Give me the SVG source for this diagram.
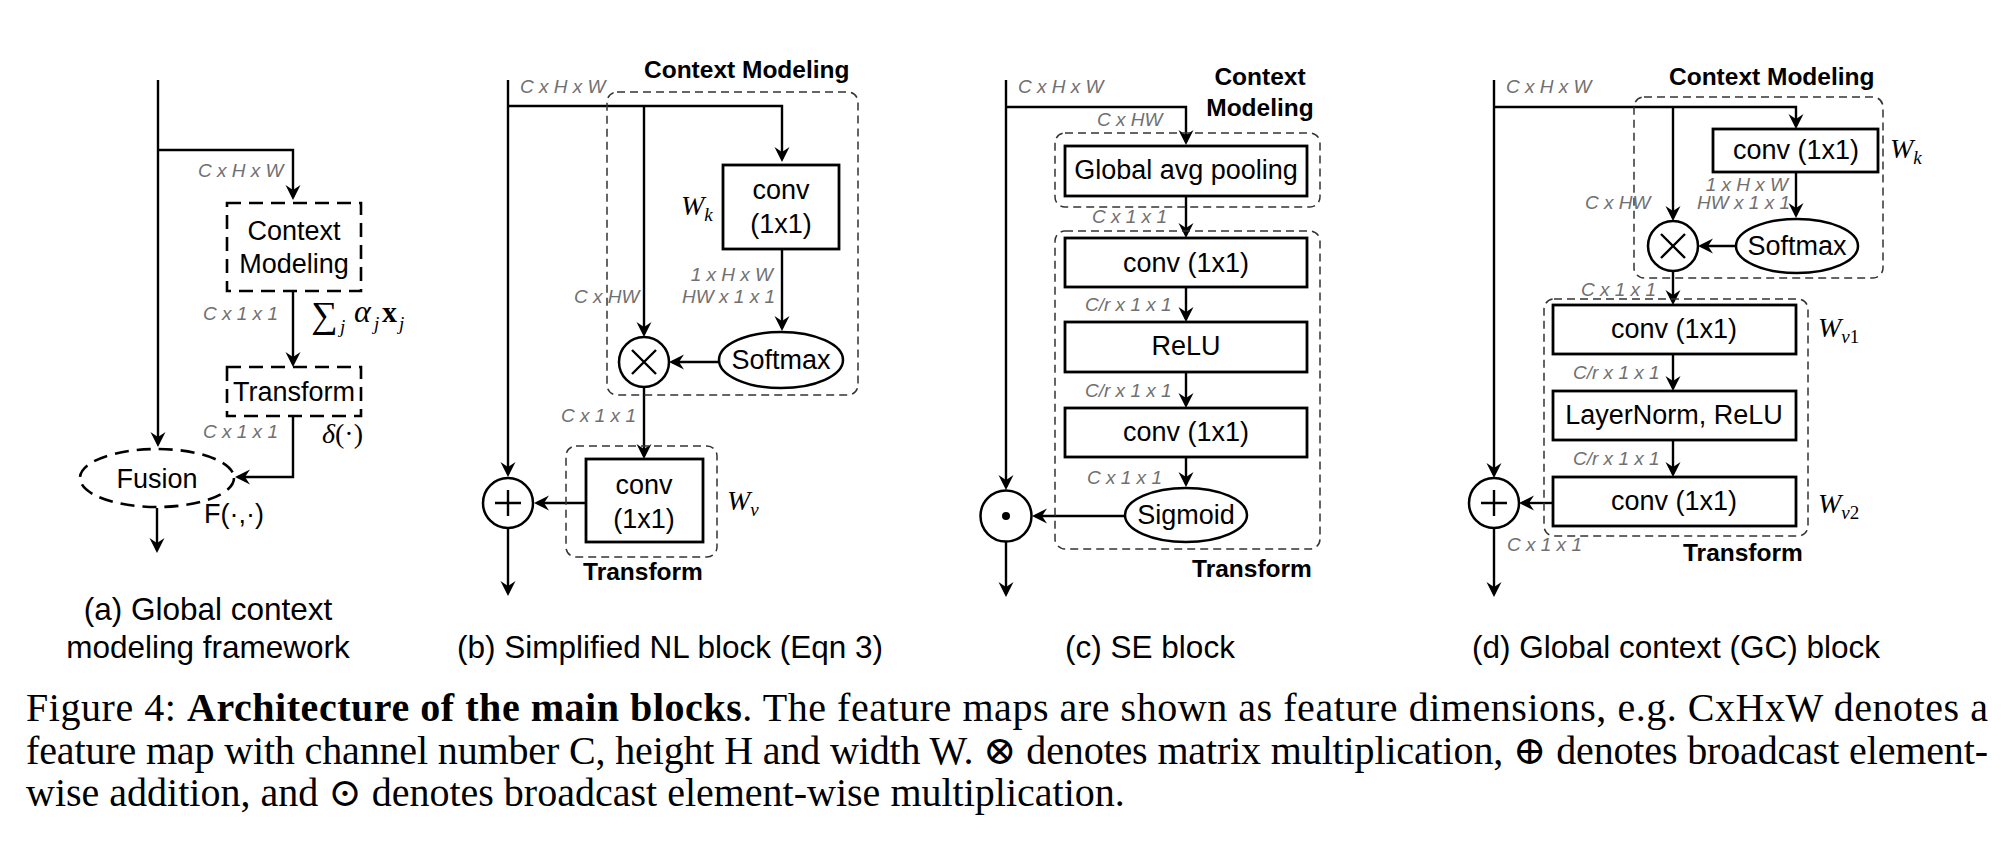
<svg xmlns="http://www.w3.org/2000/svg" width="2005" height="844" viewBox="0 0 2005 844">
<style>
.ln{fill:none;stroke:#000;stroke-width:2.4}
.box{fill:#fff;stroke:#000;stroke-width:2.8}
.dbox{fill:none;stroke:#000;stroke-width:2.6;stroke-dasharray:14 8}
.tbox{fill:none;stroke:#333;stroke-width:1.5;stroke-dasharray:8 5}
.op{fill:#fff;stroke:#000;stroke-width:2.5}
.t{font-family:"Liberation Sans",Arial,sans-serif;font-size:27px;fill:#000}
.c{text-anchor:middle}
.dim{font-family:"Liberation Sans",Arial,sans-serif;font-style:italic;font-size:19px;fill:#707070}
.b{font-family:"Liberation Sans",Arial,sans-serif;font-weight:bold;font-size:24.5px;fill:#000}
.m{font-family:"Liberation Serif","Times New Roman",serif;font-size:28px;fill:#000}
.cap{font-family:"Liberation Sans",Arial,sans-serif;font-size:31.5px;fill:#000;text-anchor:middle}
.fig{font-family:"Liberation Serif","Times New Roman","DejaVu Serif",serif;font-size:40px;fill:#000}
</style>
<defs>
<marker id="arr" viewBox="-16 -8 20 16" refX="-3" refY="0" markerWidth="20" markerHeight="16" markerUnits="userSpaceOnUse" orient="auto">
<path d="M0,0 L-15,-7.5 L-10,0 L-15,7.5 Z" fill="#000"/>
</marker>
</defs>
<rect width="2005" height="844" fill="#fff"/>

<g id="connectors">
<!-- (a) -->
<path class="ln" d="M158,80 V444" marker-end="url(#arr)"/>
<path class="ln" d="M158,150 H293 V197" marker-end="url(#arr)"/>
<path class="ln" d="M293,291 V364" marker-end="url(#arr)"/>
<path class="ln" d="M293,416 V477 H238" marker-end="url(#arr)"/>
<path class="ln" d="M157,508 V550" marker-end="url(#arr)"/>
<!-- (b) -->
<path class="ln" d="M508,80 V474" marker-end="url(#arr)"/>
<path class="ln" d="M508,106 H782 V159" marker-end="url(#arr)"/>
<path class="ln" d="M644,106 V334" marker-end="url(#arr)"/>
<path class="ln" d="M782,249 V328" marker-end="url(#arr)"/>
<path class="ln" d="M719,362 H672" marker-end="url(#arr)"/>
<path class="ln" d="M644,387 V456" marker-end="url(#arr)"/>
<path class="ln" d="M586,503 H537" marker-end="url(#arr)"/>
<path class="ln" d="M508,528 V593" marker-end="url(#arr)"/>
<!-- (c) -->
<path class="ln" d="M1006,80 V487" marker-end="url(#arr)"/>
<path class="ln" d="M1006,107 H1186 V142" marker-end="url(#arr)"/>
<path class="ln" d="M1186,196 V235" marker-end="url(#arr)"/>
<path class="ln" d="M1186,287 V319" marker-end="url(#arr)"/>
<path class="ln" d="M1186,372 V405" marker-end="url(#arr)"/>
<path class="ln" d="M1186,457 V484" marker-end="url(#arr)"/>
<path class="ln" d="M1125,516 H1035" marker-end="url(#arr)"/>
<path class="ln" d="M1006,542 V594" marker-end="url(#arr)"/>
<!-- (d) -->
<path class="ln" d="M1494,80 V475" marker-end="url(#arr)"/>
<path class="ln" d="M1494,107 H1796 V126" marker-end="url(#arr)"/>
<path class="ln" d="M1673,107 V218" marker-end="url(#arr)"/>
<path class="ln" d="M1796,172 V215" marker-end="url(#arr)"/>
<path class="ln" d="M1736,246 H1701" marker-end="url(#arr)"/>
<path class="ln" d="M1673,271 V302" marker-end="url(#arr)"/>
<path class="ln" d="M1673,354 V388" marker-end="url(#arr)"/>
<path class="ln" d="M1673,440 V474" marker-end="url(#arr)"/>
<path class="ln" d="M1553,503 H1522" marker-end="url(#arr)"/>
<path class="ln" d="M1494,528 V594" marker-end="url(#arr)"/>
</g>

<!-- ===== Panel (a) ===== -->
<g id="a-labels">
<text class="dim" x="198" y="177">C x H x W</text>
<text class="dim" x="203" y="320">C x 1 x 1</text>
<text class="dim" x="203" y="438">C x 1 x 1</text>
<text class="m"><tspan x="311" y="327" font-size="37">∑</tspan><tspan x="340" y="333" font-style="italic" font-size="19">j</tspan><tspan x="354" y="322" font-style="italic" font-size="32">α</tspan><tspan x="374" y="330" font-style="italic" font-size="19">j</tspan><tspan x="382" y="322" font-weight="bold" font-size="30">x</tspan><tspan x="399" y="330" font-style="italic" font-size="19">j</tspan></text>
<text class="m" x="322" y="443" font-size="27"><tspan font-style="italic">δ</tspan>(·)</text>
<text class="t" x="204" y="523" font-size="26">F(·,·)</text>
</g>
<g id="a-context">
<rect class="dbox" x="227" y="203" width="134" height="88"/>
<text class="t c" x="294" y="240">Context</text>
<text class="t c" x="294" y="273">Modeling</text>
</g>
<g id="a-transform">
<rect class="dbox" x="227" y="367" width="134" height="49"/>
<text class="t c" x="294" y="401">Transform</text>
</g>
<g id="a-fusion">
<ellipse cx="157" cy="478" rx="77" ry="29" fill="#fff" stroke="#000" stroke-width="2.6" stroke-dasharray="14 8"/>
<text class="t c" x="157" y="488">Fusion</text>
</g>
<g id="a-caption">
<text class="cap" x="208" y="620">(a) Global context</text>
<text class="cap" x="208" y="658">modeling framework</text>
</g>

<!-- ===== Panel (b) ===== -->
<g id="b-context-group">
<rect class="tbox" x="607" y="92" width="251" height="303" rx="10"/>
<text class="b" x="644" y="78">Context Modeling</text>
</g>
<g id="b-labels">
<text class="dim" x="520" y="93">C x H x W</text>
<text class="dim" x="574" y="303">C x HW</text>
<text class="dim" x="773" y="281" text-anchor="end">1 x H x W</text>
<text class="dim" x="775" y="303" text-anchor="end">HW x 1 x 1</text>
<text class="dim" x="561" y="422">C x 1 x 1</text>
</g>
<g id="b-conv-k">
<rect class="box" x="723" y="165" width="116" height="84"/>
<text class="t c" x="781" y="199">conv</text>
<text class="t c" x="781" y="233">(1x1)</text>
<text class="m" x="681" y="215" font-style="italic">W<tspan font-size="19" dy="6">k</tspan></text>
</g>
<g id="b-softmax">
<ellipse class="op" cx="781" cy="360" rx="62" ry="28"/>
<text class="t c" x="781" y="369">Softmax</text>
</g>
<g id="b-matmul">
<circle class="op" cx="644" cy="362" r="25"/>
<path class="ln" d="M632,350 L656,374 M656,350 L632,374" stroke-width="2.8"/>
</g>
<g id="b-transform">
<rect class="tbox" x="566" y="446" width="151" height="111" rx="10"/>
<rect class="box" x="586" y="459" width="117" height="83"/>
<text class="t c" x="644" y="494">conv</text>
<text class="t c" x="644" y="528">(1x1)</text>
<text class="m" x="727" y="510" font-style="italic">W<tspan font-size="19" dy="6">v</tspan></text>
<text class="b c" x="643" y="580">Transform</text>
</g>
<g id="b-add">
<circle class="op" cx="508" cy="503" r="25"/>
<path class="ln" d="M495,503 H521 M508,490 V516" stroke-width="2.8"/>
</g>
<g id="b-caption">
<text class="cap" x="670" y="658">(b) Simplified NL block (Eqn 3)</text>
</g>

<!-- ===== Panel (c) ===== -->
<g id="c-labels">
<text class="dim" x="1018" y="93">C x H x W</text>
<text class="dim" x="1097" y="126">C x HW</text>
<text class="dim" x="1092" y="223">C x 1 x 1</text>
<text class="dim" x="1085" y="311">C/r x 1 x 1</text>
<text class="dim" x="1085" y="397">C/r x 1 x 1</text>
<text class="dim" x="1087" y="484">C x 1 x 1</text>
</g>
<g id="c-context">
<rect class="tbox" x="1055" y="133" width="265" height="74" rx="10"/>
<text class="b c" x="1260" y="85">Context</text>
<text class="b c" x="1260" y="116">Modeling</text>
<rect class="box" x="1065" y="146" width="242" height="50"/>
<text class="t c" x="1186" y="179">Global avg pooling</text>
</g>
<g id="c-transform">
<rect class="tbox" x="1055" y="231" width="265" height="318" rx="10"/>
<text class="b c" x="1252" y="577">Transform</text>
</g>
<g id="c-conv1">
<rect class="box" x="1065" y="238" width="242" height="49"/>
<text class="t c" x="1186" y="272">conv (1x1)</text>
</g>
<g id="c-relu">
<rect class="box" x="1065" y="322" width="242" height="50"/>
<text class="t c" x="1186" y="355">ReLU</text>
</g>
<g id="c-conv2">
<rect class="box" x="1065" y="408" width="242" height="49"/>
<text class="t c" x="1186" y="441">conv (1x1)</text>
</g>
<g id="c-sigmoid">
<ellipse class="op" cx="1186" cy="515" rx="61" ry="27"/>
<text class="t c" x="1186" y="524">Sigmoid</text>
</g>
<g id="c-mul">
<circle class="op" cx="1006" cy="516" r="25.5"/>
<circle cx="1006" cy="516" r="4" fill="#000"/>
</g>
<g id="c-caption">
<text class="cap" x="1150" y="658">(c) SE block</text>
</g>

<!-- ===== Panel (d) ===== -->
<g id="d-context-group">
<rect class="tbox" x="1634" y="97" width="249" height="181" rx="10"/>
<text class="b" x="1669" y="85">Context Modeling</text>
</g>
<g id="d-labels">
<text class="dim" x="1506" y="93">C x H x W</text>
<text class="dim" x="1585" y="209">C x HW</text>
<text class="dim" x="1788" y="191" text-anchor="end">1 x H x W</text>
<text class="dim" x="1790" y="209" text-anchor="end">HW x 1 x 1</text>
<text class="dim" x="1581" y="296">C x 1 x 1</text>
<text class="dim" x="1573" y="379">C/r x 1 x 1</text>
<text class="dim" x="1573" y="465">C/r x 1 x 1</text>
<text class="dim" x="1507" y="551">C x 1 x 1</text>
</g>
<g id="d-conv-k">
<rect class="box" x="1713" y="129" width="165" height="43"/>
<text class="t c" x="1796" y="159">conv (1x1)</text>
<text class="m" x="1890" y="158" font-style="italic">W<tspan font-size="19" dy="6">k</tspan></text>
</g>
<g id="d-softmax">
<ellipse class="op" cx="1797" cy="246" rx="61" ry="27"/>
<text class="t c" x="1797" y="255">Softmax</text>
</g>
<g id="d-matmul">
<circle class="op" cx="1673" cy="246" r="25"/>
<path class="ln" d="M1661,234 L1685,258 M1685,234 L1661,258" stroke-width="2.8"/>
</g>
<g id="d-transform">
<rect class="tbox" x="1544" y="299" width="264" height="237" rx="10"/>
<text class="b" x="1683" y="561">Transform</text>
</g>
<g id="d-conv-v1">
<rect class="box" x="1553" y="305" width="243" height="49"/>
<text class="t c" x="1674" y="338">conv (1x1)</text>
<text class="m" x="1818" y="337" font-style="italic">W<tspan font-size="19" dy="6">v</tspan><tspan font-style="normal" font-size="19">1</tspan></text>
</g>
<g id="d-ln-relu">
<rect class="box" x="1553" y="391" width="243" height="49"/>
<text class="t c" x="1674" y="424">LayerNorm, ReLU</text>
</g>
<g id="d-conv-v2">
<rect class="box" x="1553" y="477" width="243" height="49"/>
<text class="t c" x="1674" y="510">conv (1x1)</text>
<text class="m" x="1818" y="513" font-style="italic">W<tspan font-size="19" dy="6">v</tspan><tspan font-style="normal" font-size="19">2</tspan></text>
</g>
<g id="d-add">
<circle class="op" cx="1494" cy="503" r="25"/>
<path class="ln" d="M1481,503 H1507 M1494,490 V516" stroke-width="2.8"/>
</g>
<g id="d-caption">
<text class="cap" x="1676" y="658">(d) Global context (GC) block</text>
</g>

<!-- ===== Figure caption ===== -->
<g id="figure-caption">
<text class="fig" x="26" y="721" textLength="1962" lengthAdjust="spacing">Figure 4:  <tspan font-weight="bold">Architecture of the main blocks</tspan>.  The feature maps are shown as feature dimensions, e.g.  CxHxW denotes a</text>
<text class="fig" x="26" y="764" textLength="1962" lengthAdjust="spacing">feature map with channel number C, height H and width W. ⊗ denotes matrix multiplication, ⊕ denotes broadcast element-</text>
<text class="fig" x="26" y="806">wise addition, and ⊙ denotes broadcast element-wise multiplication.</text>
</g>
</svg>
